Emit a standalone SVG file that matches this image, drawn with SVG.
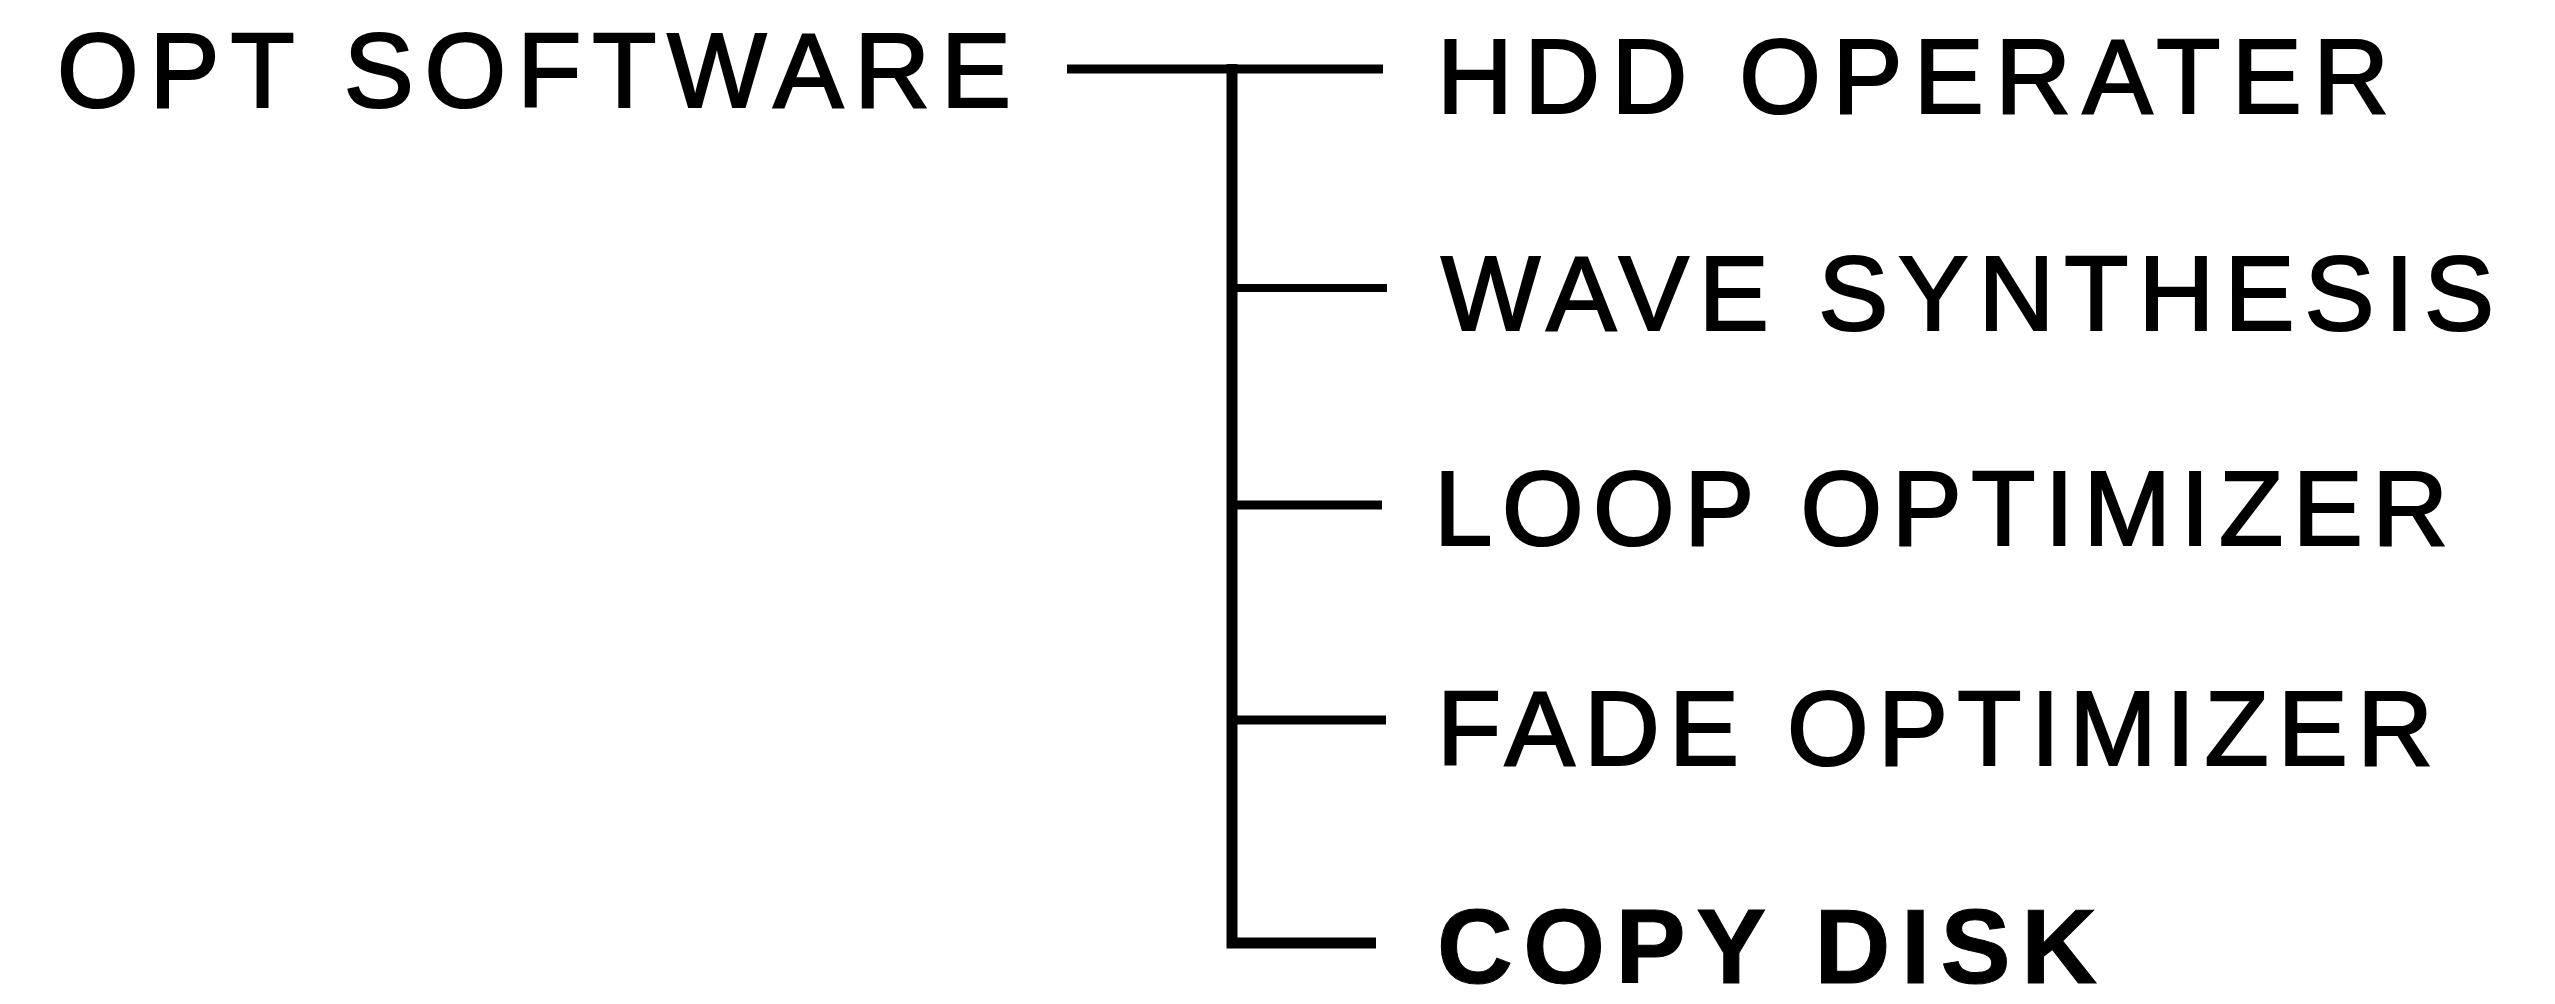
<svg xmlns="http://www.w3.org/2000/svg" width="2555" height="1004" viewBox="0 0 2555 1004">
<style>
.t{font-family:"Liberation Sans",Arial,sans-serif;font-size:105px;fill:#000;stroke:#000;stroke-width:2.2px}
.b{font-weight:bold;stroke-width:1px}
.c{stroke:#000;fill:none;stroke-linecap:butt}
</style>
<rect width="2555" height="1004" fill="#fff"/>
<g id="connectors">
<line class="c" x1="1067" y1="69" x2="1383" y2="69" stroke-width="9"/>
<path class="c" d="M1232,64 V943 H1376" stroke-width="11"/>
<line class="c" x1="1232" y1="288" x2="1387" y2="288" stroke-width="8"/>
<line class="c" x1="1232" y1="505" x2="1382" y2="505" stroke-width="9"/>
<line class="c" x1="1232" y1="720" x2="1386" y2="720" stroke-width="9"/>
</g>
<g id="node-opt"><text class="t" x="57" y="107" textLength="954" lengthAdjust="spacing">OPT SOFTWARE</text></g>
<g id="node-hdd"><text class="t" x="1437" y="113" textLength="952" lengthAdjust="spacing">HDD OPERATER</text></g>
<g id="node-wave"><text class="t" x="1441" y="330" textLength="1053" lengthAdjust="spacing">WAVE SYNTHESIS</text></g>
<g id="node-loop"><text class="t" x="1434" y="545" textLength="1014" lengthAdjust="spacing">LOOP OPTIMIZER</text></g>
<g id="node-fade"><text class="t" x="1437" y="765" textLength="996" lengthAdjust="spacing">FADE OPTIMIZER</text></g>
<g id="node-copy"><text class="t b" x="1437" y="983" textLength="660" lengthAdjust="spacing">COPY DISK</text></g>
</svg>
